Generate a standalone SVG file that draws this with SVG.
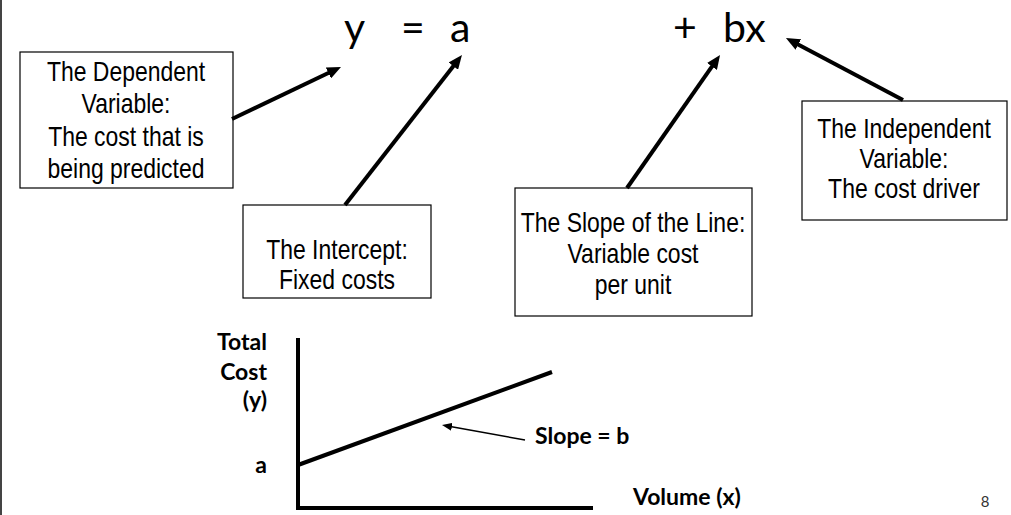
<svg xmlns="http://www.w3.org/2000/svg" width="1011" height="515" viewBox="0 0 1011 515">
<style>
.box{fill:#fff;stroke:#000;stroke-width:1.2}
.bt{font-family:"Liberation Sans Narrow","Arial Narrow","Liberation Sans",sans-serif;font-size:28px;fill:#000;text-anchor:middle}
.eq{font-family:Lato,"Open Sans",sans-serif;font-size:41px;fill:#000}
.lab{font-family:Lato,"Open Sans",sans-serif;font-weight:bold;font-size:23px;fill:#000}
.conn{stroke:#000;stroke-width:4;fill:none}
.thin{stroke:#000;stroke-width:1.5;fill:none}
.ax{stroke:#000;stroke-width:4;fill:none}
</style>
<defs>
<marker id="ah" viewBox="0 0 14 12" refX="4" refY="6" markerWidth="14" markerHeight="12" markerUnits="userSpaceOnUse" orient="auto"><path d="M0,0 L14,6 L0,12 z" fill="#000"/></marker>
<marker id="ahs" viewBox="0 0 10 8" refX="3" refY="4" markerWidth="10" markerHeight="8" markerUnits="userSpaceOnUse" orient="auto"><path d="M0,0 L10,4 L0,8 z" fill="#000"/></marker>
</defs>
<rect width="1011" height="515" fill="#fff"/>
<line x1="1" y1="0" x2="1" y2="515" stroke="#444" stroke-width="2"/>
<g id="equation">
<text class="eq" x="344" y="42">y</text>
<text class="eq" x="401" y="42">=</text>
<text class="eq" x="450" y="42">a</text>
<text class="eq" x="673" y="42">+</text>
<text class="eq" x="723" y="42">bx</text>
</g>
<g id="dependent">
<rect class="box" x="20" y="52" width="213" height="136"/>
<text class="bt" transform="translate(126 81) scale(0.82 1)">The Dependent</text>
<text class="bt" transform="translate(126 113) scale(0.82 1)">Variable:</text>
<text class="bt" transform="translate(126 146) scale(0.82 1)">The cost that is</text>
<text class="bt" transform="translate(126 178) scale(0.82 1)">being predicted</text>
</g>
<g id="intercept">
<rect class="box" x="243" y="205" width="188" height="93"/>
<text class="bt" transform="translate(337 259) scale(0.82 1)">The Intercept:</text>
<text class="bt" transform="translate(337 289) scale(0.82 1)">Fixed costs</text>
</g>
<g id="slope">
<rect class="box" x="515" y="188" width="237" height="128"/>
<text class="bt" transform="translate(633 232) scale(0.82 1)">The Slope of the Line:</text>
<text class="bt" transform="translate(633 263) scale(0.82 1)">Variable cost</text>
<text class="bt" transform="translate(633 294) scale(0.82 1)">per unit</text>
</g>
<g id="independent">
<rect class="box" x="802" y="101" width="205" height="119"/>
<text class="bt" transform="translate(904 138) scale(0.82 1)">The Independent</text>
<text class="bt" transform="translate(904 168) scale(0.82 1)">Variable:</text>
<text class="bt" transform="translate(904 198) scale(0.82 1)">The cost driver</text>
</g>
<g id="connectors">
<line class="conn" x1="232" y1="119" x2="332" y2="71.3" marker-end="url(#ah)"/>
<line class="conn" x1="345" y1="205" x2="455.8" y2="62.9" marker-end="url(#ah)"/>
<line class="conn" x1="627" y1="188" x2="714.3" y2="63.2" marker-end="url(#ah)"/>
<line class="conn" x1="903" y1="100" x2="794.8" y2="42.7" marker-end="url(#ah)"/>
<line class="thin" x1="525" y1="440" x2="448.9" y2="426.2" marker-end="url(#ahs)"/>
</g>
<g id="chart">
<line class="ax" x1="298" y1="338" x2="298" y2="510"/>
<line class="ax" x1="296" y1="508" x2="593" y2="508"/>
<line class="ax" x1="298" y1="465" x2="552" y2="372"/>
<text class="lab" x="267" y="350" text-anchor="end">Total</text>
<text class="lab" x="267" y="380" text-anchor="end">Cost</text>
<text class="lab" x="267" y="408" text-anchor="end">(y)</text>
<text class="lab" x="267" y="473" text-anchor="end">a</text>
<text class="lab" x="535" y="444">Slope = b</text>
<text class="lab" x="633" y="505">Volume (x)</text>
</g>
<text x="985" y="507" font-family="Lato,'Open Sans',sans-serif" font-size="15" fill="#333" text-anchor="middle">8</text>
</svg>
